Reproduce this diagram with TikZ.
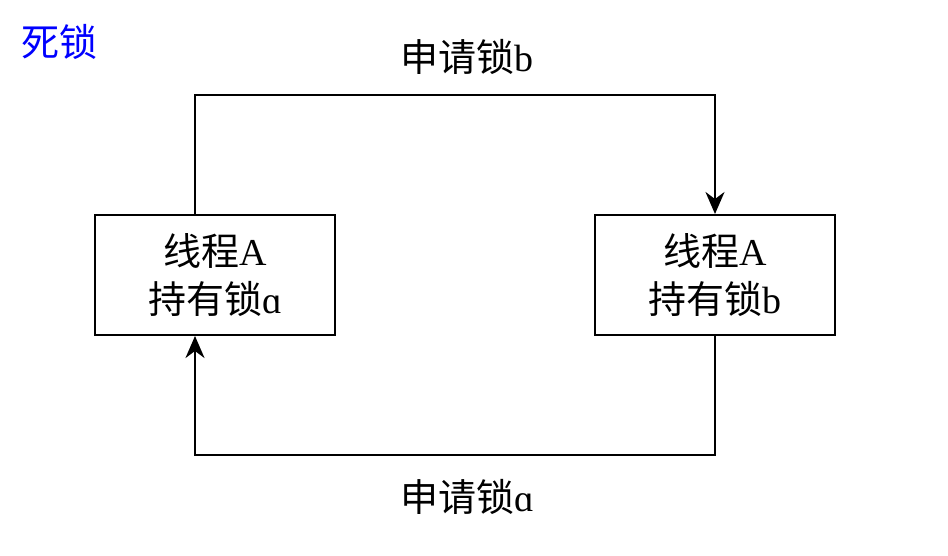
\documentclass[tikz,border=0pt]{standalone}
\usepackage{fontspec}
\setmainfont{Liberation Serif}
\newfontfamily\cjk{Noto Sans CJK SC}
\usetikzlibrary{arrows.meta}
\begin{document}
\begin{tikzpicture}[x=1pt,y=-1pt,
  bigtext/.style={font=\fontsize{38}{48}\selectfont},
  box/.style={draw, line width=2pt, minimum width=240pt, minimum height=120pt,
    align=center, inner sep=0pt, bigtext},
  link/.style={line width=2pt, -{Stealth[length=22pt,width=19pt,inset=7pt]}},
  lbl/.style={bigtext, inner sep=0pt}]
\useasboundingbox (0,0) rectangle (948,556);

% the two threads
\node[box] (ta) at (215,275) {{\cjk 线程}A\\{\cjk 持有锁}ɑ};
\node[box] (tb) at (715,275) {{\cjk 线程}A\\{\cjk 持有锁}b};

% corner points of the two request paths
\coordinate (c1) at (195,95);
\coordinate (c2) at (715,95);
\coordinate (c3) at (715,455);
\coordinate (c4) at (195,455);

\draw[link] (c1 |- ta.north) -- (c1) -- (c2) -- (tb.north);
\draw[link] (tb.south) -- (c3) -- (c4) -- (c4 |- ta.south);

% labels
\node[lbl] (la) at (467,57) {{\cjk 申请锁}b};
\node[lbl] (lb) at (467,497) {{\cjk 申请锁}ɑ};
\node[lbl, text=blue, anchor=west, font=\fontsize{38}{44}\selectfont] (title) at (21,42) {\cjk 死锁};
\end{tikzpicture}
\end{document}
